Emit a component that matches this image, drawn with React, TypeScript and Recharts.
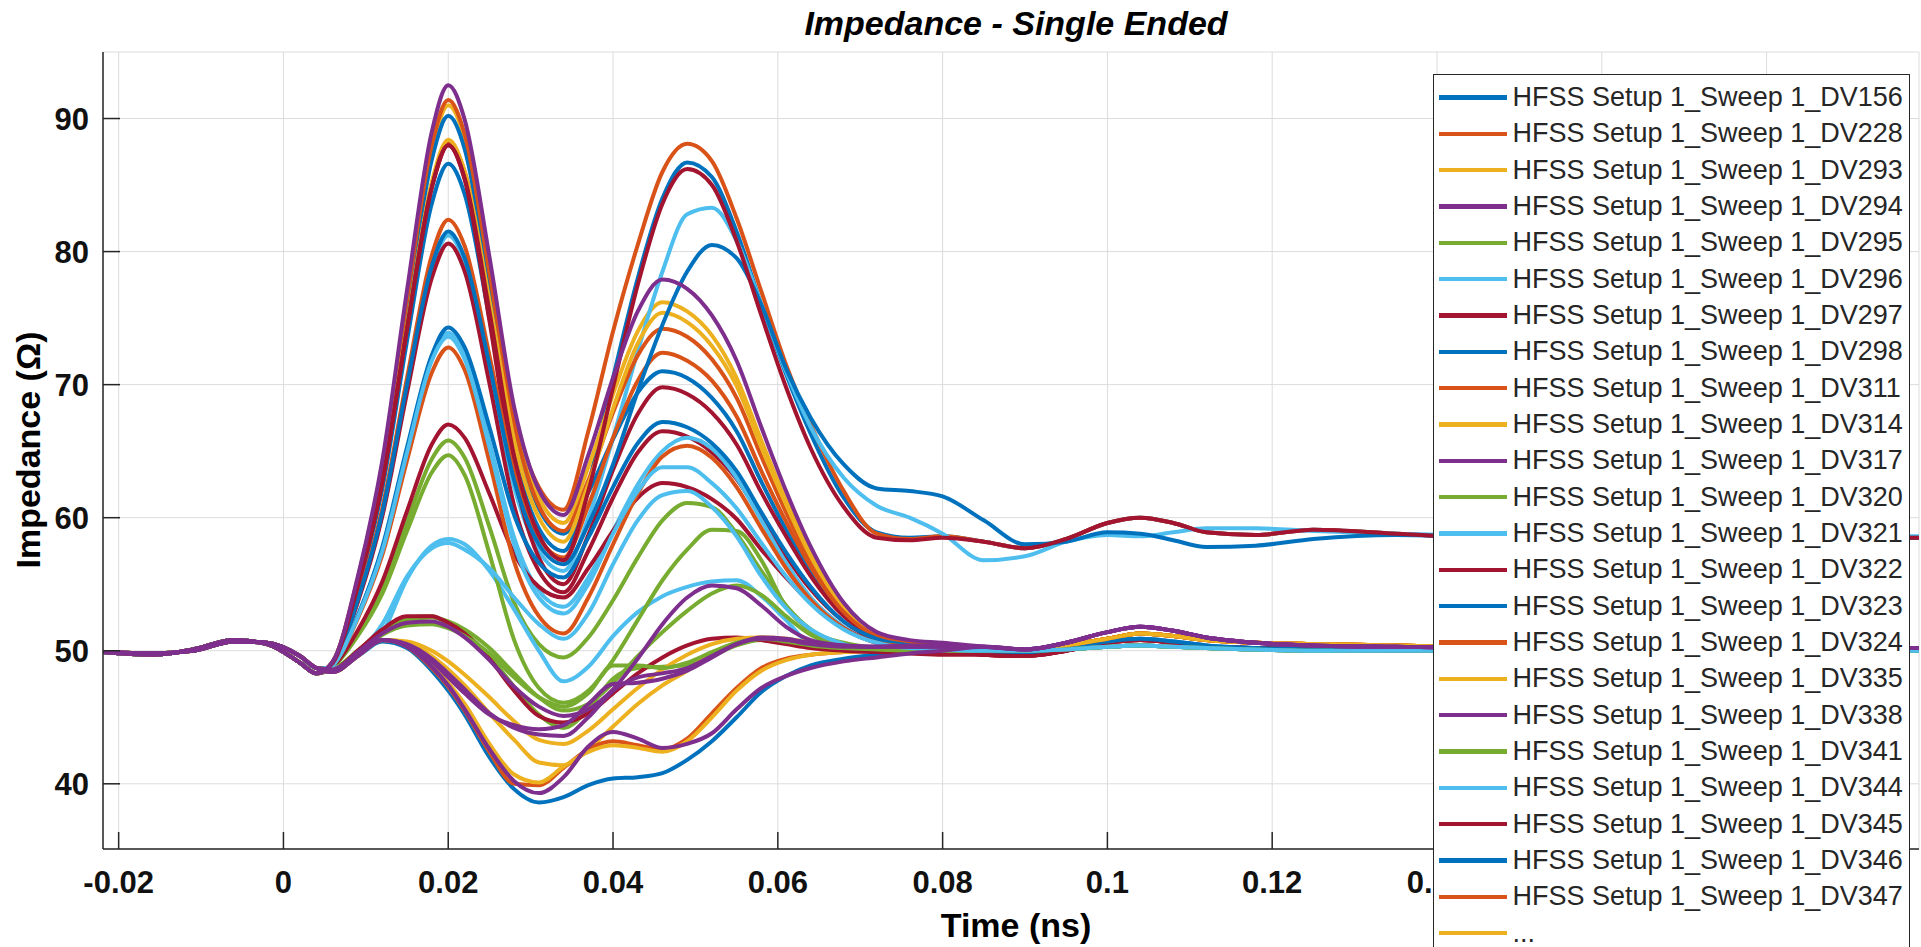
import { CartesianGrid, Line, LineChart, XAxis, YAxis } from "recharts";

// MATLAB default line colours
const BLUE = "#0072BD";
const ORANGE = "#D95319";
const YELLOW = "#EDB120";
const PURPLE = "#7E2F8E";
const GREEN = "#77AC30";
const CYAN = "#4DBEEE";
const DARKRED = "#A2142F";

// time axis (ns): lead-in | main body | tail
const TIME = [
  -0.0219, -0.016, -0.011, -0.006, -0.002, 0.002, 0.004,
  0.006, 0.009, 0.012, 0.015, 0.018, 0.02, 0.022, 0.025, 0.028, 0.031, 0.034, 0.037, 0.04,
  0.043, 0.046, 0.049, 0.052, 0.055, 0.058, 0.061, 0.064, 0.068, 0.072, 0.076, 0.08,
  0.085, 0.09, 0.095, 0.1, 0.104, 0.108, 0.112, 0.118, 0.125, 0.135, 0.15, 0.175, 0.1985
];

const X_TICKS = [-0.02, 0, 0.02, 0.04, 0.06, 0.08, 0.1, 0.12, 0.14, 0.16, 0.18];
// labels under the legend box (0.16, 0.18) are not visible in the original
const X_LABELED = [-0.02, 0, 0.02, 0.04, 0.06, 0.08, 0.1, 0.12, 0.14];
const Y_TICKS = [40, 50, 60, 70, 80, 90];

// shared lead-in (-0.022 .. 0.004 ns)
const LEAD_A = [49.9, 49.7, 50.1, 50.8, 50.5, 49.1, 48.3];
const LEAD_B = [49.9, 49.8, 50.0, 50.7, 50.6, 49.6, 48.7];

// tails (0.085 .. 0.1985 ns)
const TAIL_HI_A = [58.2, 57.7, 58.4, 59.6, 60.0, 59.6, 58.9, 58.7, 59.1, 58.8, 58.4, 58.5, 58.5];
const TAIL_HI_B = [59.8, 58.0, 58.2, 58.9, 58.8, 58.3, 57.8, 57.9, 58.4, 58.7, 58.5, 58.5, 58.5];
const TAIL_HI_C = [56.8, 57.1, 58.2, 58.7, 58.6, 58.9, 59.2, 59.2, 59.0, 58.8, 58.6, 58.6, 58.6];
const TAIL_LO_A = [50.3, 50.1, 50.6, 51.4, 51.8, 51.5, 51.0, 50.6, 50.4, 50.3, 50.2, 50.2, 50.2];
const TAIL_LO_B = [50.1, 50.0, 50.4, 50.9, 51.3, 51.1, 50.8, 50.6, 50.5, 50.4, 50.2, 50.1, 50.1];
const TAIL_LO_C = [49.7, 49.6, 50.0, 50.6, 50.8, 50.6, 50.3, 50.2, 50.1, 50.0, 50.0, 50.0, 50.0];
const TAIL_LO_D = [50.0, 50.0, 50.1, 50.3, 50.4, 50.3, 50.2, 50.1, 50.0, 50.0, 50.0, 50.0, 50.0];
const TAIL_LO_E = [50.0, 49.9, 50.2, 50.7, 50.9, 50.7, 50.4, 50.2, 50.1, 50.1, 50.0, 50.0, 50.0];

// main body (0.006 .. 0.080 ns), one per sweep
const DV156 = [49.1, 54.6, 62.2, 73.3, 83.6, 86.6, 84.3, 75.0, 64.8, 59.2, 57.5, 62.5, 70.5, 78.0, 84.0, 86.7, 85.6, 81.5, 76.0, 70.8, 66.3, 61.5, 58.9, 58.5, 58.6];
const DV228 = [49.1, 54.9, 62.8, 74.3, 85.0, 88.2, 86.0, 77.2, 67.5, 62.3, 60.6, 66.5, 74.0, 80.5, 86.0, 88.1, 86.8, 82.5, 77.0, 71.5, 67.0, 62.0, 58.8, 58.4, 58.6];
const DV293 = [49.2, 55.3, 63.8, 76.1, 87.6, 91.0, 88.5, 78.4, 67.5, 61.5, 59.6, 63.8, 69.3, 74.0, 76.2, 75.5, 73.7, 70.5, 65.8, 61.3, 57.4, 53.4, 51.3, 50.7, 50.5];
const DV294 = [49.2, 55.5, 64.3, 77.1, 89.0, 92.5, 89.9, 79.6, 68.3, 62.1, 60.2, 64.7, 70.5, 75.5, 77.9, 77.2, 75.2, 71.8, 66.8, 62.0, 57.8, 53.6, 51.4, 50.8, 50.6];
const DV295 = [48.8, 51.3, 54.7, 59.7, 64.4, 65.8, 64.5, 59.3, 53.6, 50.5, 49.5, 51.0, 53.8, 57.0, 59.8, 61.1, 60.8, 58.8, 56.0, 53.4, 51.6, 50.5, 50.1, 50.0, 50.0];
const DV296 = [49.0, 53.7, 60.3, 69.8, 78.6, 81.2, 79.2, 71.1, 62.3, 57.5, 56.0, 60.0, 66.0, 72.5, 78.5, 82.8, 83.3, 80.8, 76.0, 71.0, 66.8, 63.0, 60.9, 60.0, 58.8];
const DV297 = [49.0, 53.6, 60.1, 69.4, 78.0, 80.6, 78.5, 70.1, 60.9, 56.0, 54.4, 57.5, 61.5, 64.9, 66.5, 66.1, 64.9, 62.9, 60.0, 57.1, 54.6, 52.2, 50.8, 50.4, 50.2];
const DV298 = [49.2, 55.2, 63.5, 75.6, 86.9, 90.2, 87.7, 77.6, 66.7, 60.7, 58.8, 61.9, 65.9, 69.4, 71.0, 70.5, 69.0, 66.5, 62.7, 59.1, 55.9, 52.7, 51.1, 50.6, 50.5];
const DV311 = [49.2, 55.4, 63.9, 76.4, 88.0, 91.4, 88.8, 78.4, 67.1, 60.9, 59.0, 62.8, 67.9, 72.2, 74.2, 73.6, 71.9, 69.0, 64.6, 60.4, 56.8, 53.2, 51.2, 50.6, 50.5];
const DV314 = [49.1, 54.9, 62.9, 74.4, 85.2, 88.4, 86.0, 76.3, 65.8, 60.0, 58.2, 62.5, 68.2, 73.1, 75.4, 74.7, 72.9, 69.9, 65.3, 61.0, 57.1, 53.3, 51.3, 50.7, 50.5];
const DV317 = [48.4, 49.6, 50.8, 50.5, 49.4, 48.3, 47.1, 45.3, 44.2, 43.7, 43.6, 45.0, 47.0, 48.0, 48.3, 48.7, 49.6, 50.5, 51.0, 50.9, 50.6, 50.4, 50.3, 50.3, 50.3];
const DV320 = [48.7, 50.0, 51.5, 52.5, 52.6, 52.0, 51.3, 49.6, 47.3, 45.2, 44.2, 45.6, 47.9, 48.7, 48.8, 48.9, 49.6, 50.4, 50.8, 50.7, 50.4, 50.2, 50.1, 50.0, 50.0];
const DV321 = [48.7, 49.6, 51.3, 55.4, 57.9, 58.4, 58.0, 56.0, 53.1, 50.0, 47.7, 48.8, 51.1, 52.9, 54.1, 54.8, 55.2, 55.3, 54.1, 52.3, 50.5, 50.1, 50.0, 50.0, 50.0];
const DV322 = [49.1, 54.8, 62.7, 74.2, 84.8, 88.0, 85.4, 74.8, 63.3, 57.0, 55.0, 58.7, 63.6, 67.8, 69.8, 69.3, 67.9, 65.5, 61.9, 58.6, 55.6, 52.6, 51.0, 50.5, 50.3];
const DV323 = [48.4, 49.6, 50.7, 50.2, 48.5, 47.0, 45.2, 42.0, 39.6, 38.6, 39.0, 39.9, 40.4, 40.5, 40.8, 41.8, 43.2, 45.0, 46.9, 48.1, 48.9, 49.4, 49.7, 49.9, 50.0];
const DV324 = [49.0, 53.9, 60.7, 70.5, 79.7, 82.4, 80.4, 72.2, 63.4, 58.5, 57.0, 60.9, 66.0, 70.3, 72.4, 71.8, 70.3, 67.6, 63.5, 59.7, 56.3, 52.9, 51.1, 50.6, 50.4];
const DV335 = [48.4, 49.6, 50.8, 50.6, 49.6, 48.6, 47.4, 45.3, 43.3, 41.6, 41.4, 42.6, 44.3, 46.0, 47.4, 48.5, 49.8, 50.6, 51.0, 50.9, 50.6, 50.3, 50.2, 50.2, 50.2];
const DV338 = [48.4, 49.6, 50.8, 50.3, 48.8, 47.4, 45.6, 42.6, 40.2, 39.3, 40.5, 42.8, 43.9, 43.4, 42.7, 43.0, 43.8, 45.6, 47.2, 48.1, 48.7, 49.2, 49.5, 49.8, 50.0];
const DV341 = [48.8, 51.1, 54.3, 59.0, 63.4, 64.7, 63.2, 57.3, 50.8, 47.2, 46.1, 47.0, 49.3, 52.3, 55.3, 57.6, 59.1, 59.0, 56.8, 53.3, 51.5, 50.6, 50.2, 50.0, 50.0];
const DV344 = [48.9, 52.6, 57.6, 65.0, 71.9, 73.9, 72.3, 65.7, 58.5, 54.5, 53.3, 55.5, 59.0, 62.5, 65.0, 66.0, 65.2, 63.0, 59.8, 56.6, 54.0, 51.8, 50.6, 50.3, 50.2];
const DV345 = [48.8, 51.5, 55.2, 60.5, 65.5, 67.0, 66.0, 61.8, 57.3, 54.8, 54.0, 56.2, 59.0, 61.5, 62.6, 62.3, 61.4, 59.9, 57.6, 55.5, 53.6, 51.7, 50.6, 50.2, 50.0];
const DV346 = [49.0, 53.8, 60.4, 70.0, 78.9, 81.5, 79.5, 71.5, 62.8, 58.0, 56.5, 59.5, 64.0, 69.5, 74.5, 78.5, 80.5, 79.5, 76.0, 71.2, 67.5, 64.0, 62.2, 62.0, 61.6];
const DV347 = [48.4, 49.6, 50.8, 50.3, 48.7, 47.3, 45.5, 42.4, 40.0, 39.9, 41.2, 42.6, 43.2, 42.9, 42.6, 43.4, 45.3, 47.2, 48.7, 49.4, 49.7, 49.9, 50.0, 50.1, 50.2];
// sweeps folded into "..." in the legend
const MORE_24 = [48.4, 49.6, 50.8, 50.4, 48.9, 47.6, 46.0, 43.0, 40.7, 40.1, 41.3, 42.4, 42.9, 42.7, 42.4, 43.2, 45.0, 47.0, 48.5, 49.3, 49.7, 49.9, 50.0, 50.1, 50.2];
const MORE_25 = [48.6, 49.9, 51.3, 52.1, 52.2, 51.8, 51.0, 49.3, 47.3, 45.8, 45.1, 45.6, 47.1, 49.4, 52.0, 54.0, 54.9, 54.7, 53.4, 51.8, 50.8, 50.4, 50.3, 50.3, 50.3];
const MORE_26 = [48.7, 50.0, 51.4, 52.3, 52.5, 52.2, 51.6, 50.2, 48.3, 46.5, 45.5, 46.0, 47.6, 49.6, 51.4, 53.0, 54.3, 54.9, 54.2, 52.6, 51.2, 50.3, 50.1, 50.0, 50.0];
const MORE_27 = [48.7, 49.8, 52.0, 55.6, 57.7, 58.1, 57.6, 56.2, 54.0, 52.0, 50.9, 52.8, 56.5, 59.8, 61.7, 62.0, 60.8, 58.6, 55.6, 53.2, 51.6, 50.5, 50.1, 50.0, 50.0];
const MORE_28 = [48.6, 50.0, 51.6, 52.6, 52.6, 52.1, 51.3, 49.4, 47.0, 45.1, 44.6, 45.3, 46.8, 48.3, 49.5, 50.4, 50.9, 51.0, 50.8, 50.5, 50.2, 50.0, 49.9, 49.8, 49.7];
const MORE_29 = [48.9, 52.6, 57.8, 65.3, 72.2, 74.3, 72.8, 66.8, 60.2, 56.6, 55.5, 58.5, 62.3, 65.6, 67.2, 66.8, 65.6, 63.5, 60.4, 57.4, 54.8, 52.2, 50.9, 50.4, 50.2];
const MORE_30 = [48.9, 52.4, 57.2, 64.3, 70.9, 72.8, 71.1, 64.2, 56.7, 52.6, 51.3, 54.0, 58.0, 61.8, 64.6, 65.4, 64.5, 62.3, 59.2, 56.2, 53.8, 51.7, 50.6, 50.3, 50.2];
const MORE_31 = [48.4, 49.6, 50.8, 50.7, 50.0, 49.2, 48.2, 46.5, 44.7, 43.3, 43.0, 44.0, 45.6, 47.2, 48.6, 49.7, 50.5, 50.9, 51.0, 50.8, 50.5, 50.3, 50.2, 50.1, 50.1];
const MORE_32 = [48.4, 49.6, 50.8, 50.4, 49.2, 48.0, 46.8, 45.2, 44.4, 44.1, 44.4, 46.0, 47.5, 47.6, 47.9, 48.5, 49.5, 50.5, 50.9, 50.8, 50.5, 50.3, 50.3, 50.4, 50.4];
const MORE_33 = [48.6, 49.8, 51.2, 51.9, 52.0, 51.7, 51.1, 49.8, 48.0, 46.5, 45.8, 46.8, 48.9, 48.9, 48.7, 49.1, 49.9, 50.6, 50.9, 50.7, 50.4, 50.2, 50.1, 50.0, 50.0];
const MORE_34 = [48.9, 52.5, 57.5, 64.9, 71.8, 73.6, 71.9, 65.3, 58.0, 54.0, 52.8, 55.0, 58.8, 62.0, 63.8, 63.8, 62.6, 60.7, 58.1, 55.6, 53.5, 51.6, 50.6, 50.2, 50.1];
const MORE_35 = [49.1, 54.8, 62.7, 74.2, 84.8, 88.0, 85.5, 75.5, 64.6, 58.7, 56.8, 62.0, 69.8, 77.5, 83.6, 86.2, 85.0, 80.8, 75.2, 69.8, 65.2, 60.8, 58.5, 58.3, 58.5];

type Sweep = { key: string; label: string; color: string; lead: number[]; body: number[]; tail: number[] };

const PREFIX = "HFSS Setup 1_Sweep 1_";

const SWEEPS: Sweep[] = [
  { key: "DV156", label: PREFIX + "DV156", color: BLUE, lead: LEAD_A, body: DV156, tail: TAIL_HI_A },
  { key: "DV228", label: PREFIX + "DV228", color: ORANGE, lead: LEAD_A, body: DV228, tail: TAIL_HI_A },
  { key: "DV293", label: PREFIX + "DV293", color: YELLOW, lead: LEAD_A, body: DV293, tail: TAIL_LO_B },
  { key: "DV294", label: PREFIX + "DV294", color: PURPLE, lead: LEAD_A, body: DV294, tail: TAIL_LO_A },
  { key: "DV295", label: PREFIX + "DV295", color: GREEN, lead: LEAD_A, body: DV295, tail: TAIL_LO_D },
  { key: "DV296", label: PREFIX + "DV296", color: CYAN, lead: LEAD_A, body: DV296, tail: TAIL_HI_C },
  { key: "DV297", label: PREFIX + "DV297", color: DARKRED, lead: LEAD_A, body: DV297, tail: TAIL_LO_C },
  { key: "DV298", label: PREFIX + "DV298", color: BLUE, lead: LEAD_A, body: DV298, tail: TAIL_LO_E },
  { key: "DV311", label: PREFIX + "DV311", color: ORANGE, lead: LEAD_A, body: DV311, tail: TAIL_LO_B },
  { key: "DV314", label: PREFIX + "DV314", color: YELLOW, lead: LEAD_A, body: DV314, tail: TAIL_LO_B },
  { key: "DV317", label: PREFIX + "DV317", color: PURPLE, lead: LEAD_B, body: DV317, tail: TAIL_LO_A },
  { key: "DV320", label: PREFIX + "DV320", color: GREEN, lead: LEAD_B, body: DV320, tail: TAIL_LO_D },
  { key: "DV321", label: PREFIX + "DV321", color: CYAN, lead: LEAD_B, body: DV321, tail: TAIL_LO_D },
  { key: "DV322", label: PREFIX + "DV322", color: DARKRED, lead: LEAD_A, body: DV322, tail: TAIL_LO_C },
  { key: "DV323", label: PREFIX + "DV323", color: BLUE, lead: LEAD_B, body: DV323, tail: TAIL_LO_D },
  { key: "DV324", label: PREFIX + "DV324", color: ORANGE, lead: LEAD_A, body: DV324, tail: TAIL_LO_B },
  { key: "DV335", label: PREFIX + "DV335", color: YELLOW, lead: LEAD_B, body: DV335, tail: TAIL_LO_B },
  { key: "DV338", label: PREFIX + "DV338", color: PURPLE, lead: LEAD_B, body: DV338, tail: TAIL_LO_A },
  { key: "DV341", label: PREFIX + "DV341", color: GREEN, lead: LEAD_A, body: DV341, tail: TAIL_LO_D },
  { key: "DV344", label: PREFIX + "DV344", color: CYAN, lead: LEAD_A, body: DV344, tail: TAIL_LO_D },
  { key: "DV345", label: PREFIX + "DV345", color: DARKRED, lead: LEAD_A, body: DV345, tail: TAIL_LO_C },
  { key: "DV346", label: PREFIX + "DV346", color: BLUE, lead: LEAD_A, body: DV346, tail: TAIL_HI_B },
  { key: "DV347", label: PREFIX + "DV347", color: ORANGE, lead: LEAD_B, body: DV347, tail: TAIL_LO_B },
  { key: "more24", label: "...", color: YELLOW, lead: LEAD_B, body: MORE_24, tail: TAIL_LO_B },
  { key: "more25", label: "", color: PURPLE, lead: LEAD_B, body: MORE_25, tail: TAIL_LO_A },
  { key: "more26", label: "", color: GREEN, lead: LEAD_B, body: MORE_26, tail: TAIL_LO_D },
  { key: "more27", label: "", color: CYAN, lead: LEAD_B, body: MORE_27, tail: TAIL_LO_D },
  { key: "more28", label: "", color: DARKRED, lead: LEAD_B, body: MORE_28, tail: TAIL_LO_C },
  { key: "more29", label: "", color: BLUE, lead: LEAD_A, body: MORE_29, tail: TAIL_LO_E },
  { key: "more30", label: "", color: ORANGE, lead: LEAD_A, body: MORE_30, tail: TAIL_LO_B },
  { key: "more31", label: "", color: YELLOW, lead: LEAD_B, body: MORE_31, tail: TAIL_LO_B },
  { key: "more32", label: "", color: PURPLE, lead: LEAD_B, body: MORE_32, tail: TAIL_LO_A },
  { key: "more33", label: "", color: GREEN, lead: LEAD_B, body: MORE_33, tail: TAIL_LO_D },
  { key: "more34", label: "", color: CYAN, lead: LEAD_A, body: MORE_34, tail: TAIL_LO_D },
  { key: "more35", label: "", color: DARKRED, lead: LEAD_A, body: MORE_35, tail: TAIL_HI_A }
];

const rows = TIME.map((t, i) => {
  const row: Record<string, number> = { t };
  SWEEPS.forEach((s) => {
    row[s.key] = [...s.lead, ...s.body, ...s.tail][i];
  });
  return row;
});

// purple traces sit on top, as in the original plot
const drawOrder = [...SWEEPS.filter((s) => s.color !== PURPLE), ...SWEEPS.filter((s) => s.color === PURPLE)];
const legendItems = SWEEPS.slice(0, 24);

const FONT = "'Liberation Sans', Arial, Helvetica, sans-serif";
const AXIS = "#262626";
const TICK_LEN = 17;

function BottomTick({ x, y, payload }: any) {
  return (
    <g>
      <line x1={x} x2={x} y1={y} y2={y - TICK_LEN} stroke={AXIS} strokeWidth={1.5} />
      {X_LABELED.includes(payload.value) && (
        <text x={x} y={y + 44} textAnchor="middle" fontSize={31} fontWeight="bold" fontFamily={FONT} fill="#111">
          {String(payload.value)}
        </text>
      )}
    </g>
  );
}

function TopTick({ x, y }: any) {
  return <line x1={x} x2={x} y1={y} y2={y + TICK_LEN} stroke={AXIS} strokeWidth={1.5} />;
}

function LeftTick({ x, y, payload }: any) {
  return (
    <g>
      <line x1={x} x2={x + TICK_LEN} y1={y} y2={y} stroke={AXIS} strokeWidth={1.5} />
      <text x={x - 14} y={y + 11} textAnchor="end" fontSize={31} fontWeight="bold" fontFamily={FONT} fill="#111">
        {String(payload.value)}
      </text>
    </g>
  );
}

function RightTick({ x, y }: any) {
  return <line x1={x} x2={x - TICK_LEN} y1={y} y2={y} stroke={AXIS} strokeWidth={1.5} />;
}

export default function App() {
  const xDomain: [number, number] = [-0.0219, 0.1985];
  const yDomain: [number, number] = [35.1, 95];
  return (
    <div style={{ position: "relative", width: 1921, height: 947, overflow: "hidden", background: "#fff" }}>
      <style>{"html,body{margin:0;overflow:hidden;}"}</style>
      <LineChart width={1921} height={947} data={rows} margin={{ top: 52, right: 2, bottom: 0, left: 0 }}>
        <CartesianGrid stroke="#dcdcdc" strokeWidth={1} />
        <XAxis
          dataKey="t"
          type="number"
          domain={xDomain}
          allowDataOverflow
          ticks={X_TICKS}
          interval={0}
          height={98}
          tickSize={0}
          tickMargin={0}
          tickLine={false}
          axisLine={{ stroke: AXIS, strokeWidth: 1.5 }}
          tick={(p: any) => <BottomTick {...p} />}
        />
        <XAxis
          xAxisId="top"
          orientation="top"
          dataKey="t"
          type="number"
          domain={xDomain}
          allowDataOverflow
          ticks={X_TICKS}
          interval={0}
          height={0}
          tickSize={0}
          tickMargin={0}
          tickLine={false}
          axisLine={{ stroke: AXIS, strokeWidth: 1.5 }}
          tick={(p: any) => <TopTick {...p} />}
        />
        <YAxis
          type="number"
          domain={yDomain}
          allowDataOverflow
          ticks={Y_TICKS}
          interval={0}
          width={103}
          tickSize={0}
          tickMargin={0}
          tickLine={false}
          axisLine={{ stroke: AXIS, strokeWidth: 1.5 }}
          tick={(p: any) => <LeftTick {...p} />}
        />
        <YAxis
          yAxisId="right"
          orientation="right"
          type="number"
          domain={yDomain}
          allowDataOverflow
          ticks={Y_TICKS}
          interval={0}
          width={0}
          tickSize={0}
          tickMargin={0}
          tickLine={false}
          axisLine={{ stroke: AXIS, strokeWidth: 1.5 }}
          tick={(p: any) => <RightTick {...p} />}
        />
        {drawOrder.map((s) => (
          <Line
            key={s.key}
            dataKey={s.key}
            type="monotone"
            stroke={s.color}
            strokeWidth={4}
            dot={false}
            activeDot={false}
            isAnimationActive={false}
          />
        ))}
      </LineChart>

      <svg width={1921} height={947} style={{ position: "absolute", left: 0, top: 0, pointerEvents: "none" }}>
        <text x={1016} y={35} textAnchor="middle" fontSize={34} fontWeight="bold" fontStyle="italic" fontFamily={FONT} fill="#000">
          Impedance - Single Ended
        </text>
        <text x={1016} y={937} textAnchor="middle" fontSize={34} fontWeight="bold" fontFamily={FONT} fill="#000">
          Time (ns)
        </text>
        <text x={40} y={450} transform="rotate(-90 40 450)" textAnchor="middle" fontSize={34} fontWeight="bold" fontFamily={FONT} fill="#000">
          Impedance (Ω)
        </text>
      </svg>

      <div
        style={{
          position: "absolute",
          left: 1433,
          top: 74,
          width: 477,
          height: 1000,
          boxSizing: "border-box",
          border: `1.5px solid ${AXIS}`,
          background: "#fff",
          fontFamily: FONT
        }}
      >
        {legendItems.map((s, i) => (
          <div
            key={s.key}
            style={{ position: "absolute", left: 0, top: 4.5 + i * 36.33, height: 36, display: "flex", alignItems: "center" }}
          >
            <span style={{ display: "inline-block", marginLeft: 4.5, width: 68, height: 4.5, background: s.color }} />
            <span style={{ marginLeft: 6, fontSize: 27, color: AXIS, whiteSpace: "nowrap" }}>{s.label}</span>
          </div>
        ))}
      </div>
    </div>
  );
}
